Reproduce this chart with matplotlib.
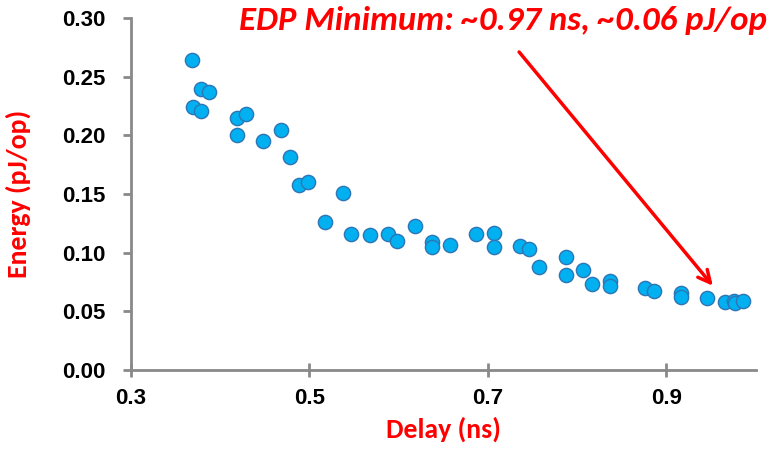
import matplotlib
matplotlib.use("Agg")
import matplotlib.pyplot as plt
import matplotlib.font_manager as fm

# delay (ns) vs energy (pJ/op)
delay = [0.369, 0.379, 0.388, 0.370, 0.379, 0.419, 0.429, 0.419, 0.448, 0.468,
         0.478, 0.488, 0.498, 0.538, 0.518, 0.547, 0.568, 0.588, 0.598, 0.618,
         0.637, 0.637, 0.658, 0.687, 0.707, 0.707, 0.736, 0.746, 0.757, 0.788,
         0.788, 0.807, 0.817, 0.837, 0.837, 0.876, 0.886, 0.916, 0.916, 0.946,
         0.966, 0.976, 0.977, 0.986]
energy = [0.264, 0.240, 0.237, 0.224, 0.221, 0.215, 0.218, 0.200, 0.195, 0.205,
          0.182, 0.158, 0.160, 0.151, 0.126, 0.116, 0.115, 0.116, 0.110, 0.123,
          0.109, 0.105, 0.107, 0.116, 0.117, 0.105, 0.106, 0.103, 0.088, 0.096,
          0.081, 0.085, 0.073, 0.076, 0.072, 0.070, 0.067, 0.066, 0.062, 0.061,
          0.058, 0.059, 0.057, 0.059]

x_ticks = [0.3, 0.5, 0.7, 0.9]
y_ticks = [0.00, 0.05, 0.10, 0.15, 0.20, 0.25, 0.30]

edp_delay, edp_energy = 0.954, 0.070
note_text = "EDP Minimum: ~0.97 ns, ~0.06 pJ/op"

names = {f.name for f in fm.fontManager.ttflist}
label_font = "Carlito" if "Carlito" in names else ("Lato" if "Lato" in names else "DejaVu Sans")
tick_font = "Liberation Sans"

GREY = "#898989"
RED = "#FF0000"

fig = plt.figure(figsize=(7.79, 4.54), dpi=100)
ax = fig.add_axes([0.168, 0.185, 0.802, 0.775])

ax.scatter(delay, energy, s=105, c="#00B0F0", edgecolors="#2E75B6",
           linewidths=1.0, zorder=3, clip_on=False)

ax.set_xlim(0.3, 1.0)
ax.set_ylim(0, 0.30)
ax.set_xticks(x_ticks)
ax.set_xticklabels([f"{v:.1f}" for v in x_ticks])
ax.set_yticks(y_ticks)
ax.set_yticklabels([f"{v:.2f}" for v in y_ticks])

for s in ["top", "right"]:
    ax.spines[s].set_visible(False)
for s in ["left", "bottom"]:
    ax.spines[s].set_color(GREY)
    ax.spines[s].set_linewidth(2.0)

ax.tick_params(axis="x", direction="inout", length=9.5, width=2.0, color=GREY, pad=8)
ax.tick_params(axis="y", direction="out", length=6, width=2.0, color=GREY, pad=12)
for lab in ax.get_xticklabels() + ax.get_yticklabels():
    lab.set_fontfamily(tick_font)
    lab.set_fontweight("bold")
    lab.set_fontsize(16)

ax.set_xlabel("Delay (ns)", color=RED, fontsize=20, fontweight="bold",
              family=label_font, labelpad=6)
ax.set_ylabel("Energy (pJ/op)", color=RED, fontsize=20, fontweight="bold",
              family=label_font)
ax.yaxis.set_label_coords(-0.16, 0.5)

ax.text(0.717, 0.298, note_text, color=RED, fontsize=25, fontweight="bold",
        fontstyle="italic", family=label_font, ha="center", va="center")
ax.annotate("", xy=(edp_delay, edp_energy), xytext=(0.733, 0.273),
            arrowprops=dict(arrowstyle="->", color=RED, lw=2.5,
                            mutation_scale=22), annotation_clip=False)

fig.savefig("out.png", dpi=100)
